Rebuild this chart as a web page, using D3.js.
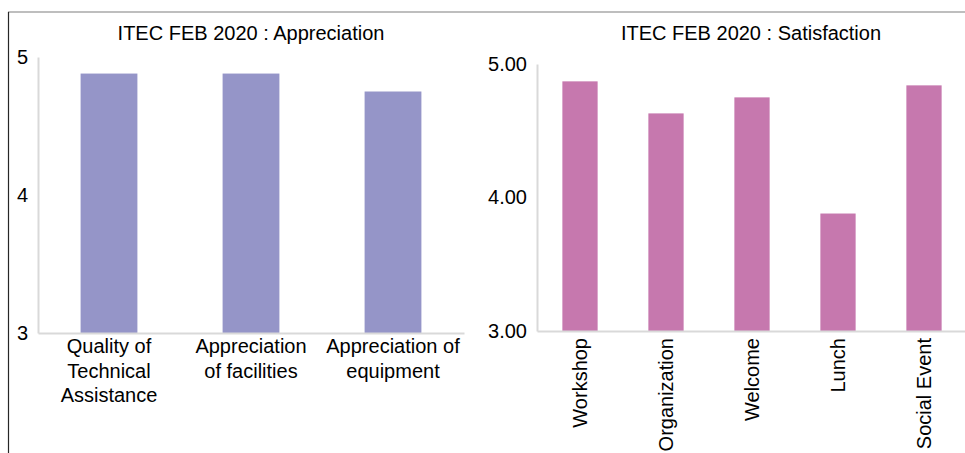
<!DOCTYPE html>
<html><head><meta charset="utf-8">
<script src="https://cdn.jsdelivr.net/npm/d3@7"></script>
<style>
body{margin:0;background:#fff;}
svg{display:block;font-family:"Liberation Sans",Arial,sans-serif;}
</style></head>
<body>
<script>
const leftTitle = "ITEC FEB 2020 : Appreciation";
const leftCategories = ["Quality of|Technical|Assistance", "Appreciation|of facilities", "Appreciation of|equipment"];
const leftValues = [4.88, 4.88, 4.75];
const leftTicks = [3, 4, 5];

const rightTitle = "ITEC FEB 2020 : Satisfaction";
const rightCategories = ["Workshop", "Organization", "Welcome", "Lunch", "Social Event"];
const rightValues = [4.87, 4.63, 4.75, 3.88, 4.84];
const rightTicks = [3, 4, 5];

const W = 965, H = 453;
const svg = d3.select("body").append("svg").attr("width", W).attr("height", H);

// frame lines
svg.append("line").attr("x1", 8).attr("x2", W).attr("y1", 12).attr("y2", 12)
  .attr("stroke", "#7f7f7f").attr("stroke-width", 1.2);
svg.append("line").attr("x1", 8.5).attr("x2", 8.5).attr("y1", 12).attr("y2", H)
  .attr("stroke", "#262626").attr("stroke-width", 1.2);

const axisColor = "#d9d9d9";
const fs = 20;

// LEFT chart
{
  const x = d3.scaleBand().domain(leftCategories).range([38, 464]).paddingInner(0.6).paddingOuter(0.3);
  const y = d3.scaleLinear().domain([3, 5]).range([333, 57]);
  const g = svg.append("g");
  g.append("text").attr("x", 251).attr("y", 40).attr("text-anchor", "middle")
    .attr("font-size", fs).attr("fill", "#000").text(leftTitle);
  g.selectAll("rect").data(leftValues).join("rect")
    .attr("x", (d, i) => x(leftCategories[i])).attr("width", x.bandwidth())
    .attr("y", d => y(d)).attr("height", d => y(3) - y(d)).attr("fill", "#9595c8");
  const ya = d3.axisLeft(y).tickValues(leftTicks).tickFormat(d3.format("d")).tickSize(0).tickPadding(10);
  const yg = g.append("g").attr("transform", "translate(38,0)").call(ya);
  yg.select(".domain").attr("stroke", axisColor).attr("stroke-width", 2);
  yg.selectAll("text").attr("font-size", fs).attr("fill", "#000").attr("font-family", "Liberation Sans, Arial, sans-serif");
  const xa = d3.axisBottom(x).tickSize(0).tickFormat("");
  const xg = g.append("g").attr("transform", "translate(0,333)").call(xa);
  xg.select(".domain").attr("stroke", axisColor).attr("stroke-width", 2);
  leftCategories.forEach(c => {
    const lines = c.split("|");
    const t = g.append("text").attr("text-anchor", "middle").attr("font-size", fs).attr("fill", "#000");
    lines.forEach((l, k) => {
      t.append("tspan").attr("x", x(c) + x.bandwidth() / 2).attr("y", 353 + k * 24.5).text(l);
    });
  });
}

// RIGHT chart
{
  const x = d3.scaleBand().domain(rightCategories).range([537, 967]).paddingInner(0.59).paddingOuter(0.295);
  const y = d3.scaleLinear().domain([3, 5]).range([331, 64]);
  const g = svg.append("g");
  g.append("text").attr("x", 751).attr("y", 40).attr("text-anchor", "middle")
    .attr("font-size", fs).attr("fill", "#000").text(rightTitle);
  g.selectAll("rect").data(rightValues).join("rect")
    .attr("x", (d, i) => x(rightCategories[i])).attr("width", x.bandwidth())
    .attr("y", d => y(d)).attr("height", d => y(3) - y(d)).attr("fill", "#c678ae");
  const ya = d3.axisLeft(y).tickValues(rightTicks).tickFormat(d3.format(".2f")).tickSize(0).tickPadding(10);
  const yg = g.append("g").attr("transform", "translate(537,0)").call(ya);
  yg.select(".domain").attr("stroke", axisColor).attr("stroke-width", 2);
  yg.selectAll("text").attr("font-size", fs).attr("fill", "#000").attr("font-family", "Liberation Sans, Arial, sans-serif");
  const xa = d3.axisBottom(x).tickSize(0).tickFormat("");
  const xg = g.append("g").attr("transform", "translate(0,331)").call(xa);
  xg.select(".domain").attr("stroke", axisColor).attr("stroke-width", 2);
  rightCategories.forEach(c => {
    const cx = x(c) + x.bandwidth() / 2;
    g.append("text").attr("transform", `translate(${cx + 7},${338}) rotate(-90)`)
      .attr("text-anchor", "end").attr("font-size", fs).attr("fill", "#000").text(c);
  });
}
</script>
</body></html>
